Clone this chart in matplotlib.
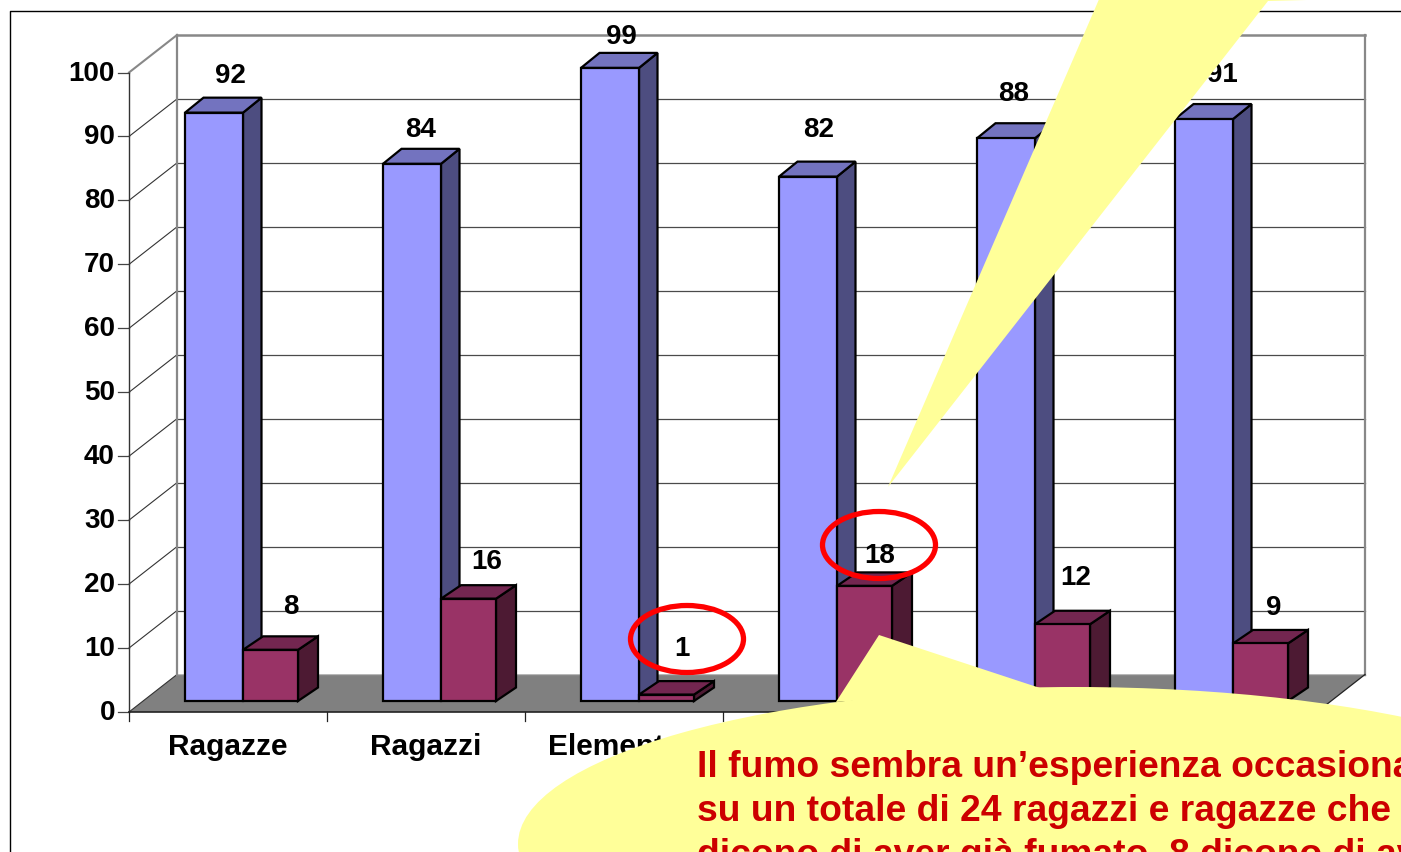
"""Istogramma 3D ricostruito con matplotlib, con i fumetti sovrapposti."""
import matplotlib
matplotlib.use("Agg")
import matplotlib.pyplot as plt
from matplotlib.patches import Ellipse, Polygon

plt.rcParams["font.family"] = ["Liberation Sans", "DejaVu Sans"]
plt.rcParams["font.weight"] = "bold"

# ── dati ────────────────────────────────────────────────────────────
CATEGORIES = ["Ragazze", "Ragazzi", "Elementari", "", "", ""]
BLUE_VALUES = [92, 84, 99, 82, 88, 91]
MAROON_VALUES = [8, 16, 1, 18, 12, 9]
Y_TICKS = list(range(0, 101, 10))
NOTE_LINES = [
    "Il fumo sembra un’esperienza occasionale:",
    "su un totale di 24 ragazzi e ragazze che",
    "dicono di aver già fumato, 8 dicono di aver",
]

# ── stile ───────────────────────────────────────────────────────────
W, H = 1401, 853
X0_PX, CAT_PX = 129, 198      # posizione x=0 e larghezza categoria
Y0_PX, Y100_PX = 713, 73.5    # posizione y=0 e y=100
UNIT_PX = (Y0_PX - Y100_PX) / 100
WALL_DX = 48 / CAT_PX         # profondità delle pareti
WALL_DY = 37.5 / UNIT_PX
BASE = 11 / UNIT_PX
BLUE_LEFT, BLUE_W = 56 / CAT_PX, 58 / CAT_PX
MAROON_W = 55 / CAT_PX
BLUE_DEPTH = (18.5 / CAT_PX, 15 / UNIT_PX)
MAROON_DEPTH = (20 / CAT_PX, 13.5 / UNIT_PX)
BLUE = ("#9999FF", "#7373BF", "#4D4D80")
MAROON = ("#993366", "#732650", "#4D1A33")
YELLOW = "#FFFF99"
# scostamenti delle etichette (pixel) rispetto allo spigolo alto della barra
BLUE_LABEL_OFF = [(16, 38), (9, 35), (11, 32), (11, 48), (8, 45), (18, 45)]
MAROON_LABEL_OFF = [(20, 44), (18, 38), (15, 47), (15, 31), (13, 47), (13, 36)]

fig = plt.figure(figsize=(W / 100, H / 100), dpi=100, facecolor="white")
ax = fig.add_axes([0, 0, 1, 1])
ax.set_xlim(-X0_PX / CAT_PX, (W - X0_PX) / CAT_PX)
ax.set_ylim((Y0_PX - H) / UNIT_PX, Y0_PX / UNIT_PX)
ax.axis("off")

n = len(CATEGORIES)

# pavimento e pareti
ax.fill([0, WALL_DX, n + WALL_DX, n], [0, WALL_DY, WALL_DY, 0],
        color="#808080", lw=0, zorder=1)
for v in Y_TICKS:
    c = "#888888" if v in (0, 100) else "#4a4a4a"
    lw = 1.8 if v == 100 else 0.9
    ax.plot([WALL_DX, n + WALL_DX], [v + WALL_DY] * 2, color=c, lw=lw, zorder=1.5)
    ax.plot([0, WALL_DX], [v, v + WALL_DY],
            color="#888888" if v == 100 else "#333333",
            lw=1.5 if v == 100 else 0.8, zorder=1.5)
    ax.plot([-11 / CAT_PX, 0], [v, v], color="#444444", lw=0.9, zorder=2)
    ax.text(-14 / CAT_PX, v, str(v), ha="right", va="center", fontsize=20,
            color="black", zorder=2)
ax.plot([WALL_DX, WALL_DX], [WALL_DY, 100 + WALL_DY], color="#888888", lw=1.6, zorder=1.6)
ax.plot([n + WALL_DX, n + WALL_DX], [WALL_DY, 100 + WALL_DY], color="#888888", lw=1.6, zorder=1.6)
ax.plot([n, n + WALL_DX], [0, WALL_DY], color="#222222", lw=0.9, zorder=1.6)
ax.plot([0, 0], [0, 100], color="#333333", lw=1.0, zorder=2)
ax.plot([0, n], [0, 0], color="#222222", lw=1.2, zorder=2)
for i in range(n + 1):
    ax.plot([i, i], [0, -9 / UNIT_PX], color="#222222", lw=0.9, zorder=2)
for i, name in enumerate(CATEGORIES):
    ax.text(i + 0.5, -34 / UNIT_PX, name, ha="center", va="center",
            fontsize=21.5, color="black", zorder=2)


def bar3d(left, width, value, colors, depth, z):
    # faccia frontale con ax.bar, lato e tetto come poligoni
    top = BASE + value
    right = left + width
    dx, dy = depth
    ax.bar(left, value, width, bottom=BASE, align="edge", color=colors[0],
           edgecolor="black", lw=1.6, zorder=z + 0.2)
    ax.fill([right, right + dx, right + dx, right],
            [BASE, BASE + dy, top + dy, top],
            facecolor=colors[2], edgecolor="black", lw=1.6, zorder=z)
    ax.fill([left, left + dx, right + dx, right],
            [top, top + dy, top + dy, top],
            facecolor=colors[1], edgecolor="black", lw=1.6, zorder=z + 0.1)


for i in range(n):
    bar3d(i + BLUE_LEFT, BLUE_W, BLUE_VALUES[i], BLUE, BLUE_DEPTH, 3)
    bar3d(i + BLUE_LEFT + BLUE_W, MAROON_W, MAROON_VALUES[i], MAROON, MAROON_DEPTH, 4)

for i in range(n):
    for vals, left, w, off in ((BLUE_VALUES, BLUE_LEFT, BLUE_W, BLUE_LABEL_OFF),
                               (MAROON_VALUES, BLUE_LEFT + BLUE_W, MAROON_W, MAROON_LABEL_OFF)):
        ax.annotate(str(vals[i]), xy=(i + left + w / 2, BASE + vals[i]),
                    xytext=off[i], textcoords="offset pixels",
                    ha="center", va="center", fontsize=20, color="black", zorder=5)

# ── livello in pixel: cornice, cerchi, fumetti ──────────────────────
ov = fig.add_axes([0, 0, 1, 1], facecolor="none")
ov.set_xlim(0, W)
ov.set_ylim(H, 0)
ov.axis("off")
ov.set_zorder(2)

ov.plot([10, 10, W], [H, 12, 12], color="black", lw=1.0, zorder=1)
for cx, cy in ((687, 640), (879, 546)):
    ov.add_patch(Ellipse((cx, cy), 113, 67, facecolor="none", edgecolor="#FF0000",
                         lw=3.8, zorder=3))
ov.add_patch(Polygon([(888, 488), (1100, -2), (1345, -2), (1345, 0), (1268, 2)],
                     closed=True, facecolor=YELLOW, edgecolor="none", zorder=4))
ov.add_patch(Ellipse((1075, 845), 1114, 314, facecolor=YELLOW, edgecolor="none", zorder=4))
ov.add_patch(Polygon([(879, 636), (836, 703), (1040, 689)],
                     closed=True, facecolor=YELLOW, edgecolor="none", zorder=4))
for k, line in enumerate(NOTE_LINES):
    ov.text(697, 777 + 44 * k, line, ha="left", va="baseline", fontsize=26.8,
            color="#CC0000", zorder=5)

fig.savefig("out.png", dpi=100)
plt.close(fig)
